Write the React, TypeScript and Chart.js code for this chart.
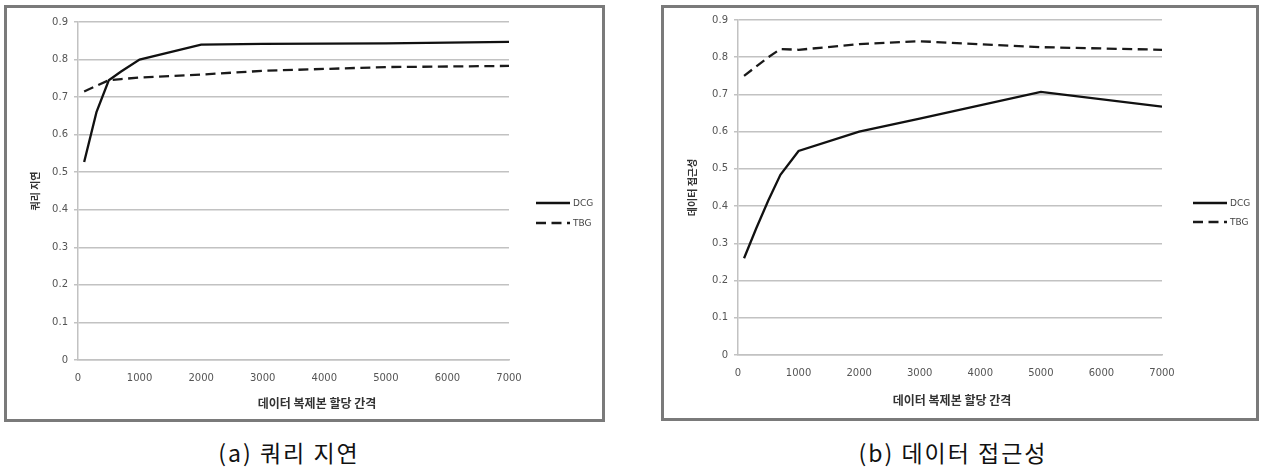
import React, { useEffect, useRef } from "react";
import { Chart, registerables } from "chart.js";

Chart.register(...registerables);

// ---- data ----
const intervals = [100, 300, 500, 700, 1000, 2000, 3000, 5000, 7000];
const latencyDCG = [0.527, 0.66, 0.745, 0.768, 0.8, 0.84, 0.842, 0.843, 0.847];
const latencyTBG = [0.715, 0.73, 0.745, 0.748, 0.752, 0.76, 0.77, 0.78, 0.783];
const accessDCG = [0.26, 0.34, 0.415, 0.484, 0.548, 0.6, 0.635, 0.707, 0.667];
const accessTBG = [0.75, 0.775, 0.8, 0.822, 0.82, 0.835, 0.843, 0.827, 0.82];
const seriesNames = ["DCG", "TBG"];
const xTickValues = [0, 1000, 2000, 3000, 4000, 5000, 6000, 7000];
const yTickValues = [0, 0.1, 0.2, 0.3, 0.4, 0.5, 0.6, 0.7, 0.8, 0.9];
const xAxisTitle = "데이터 복제본 할당 간격";
const yTitleA = "쿼리 지연";
const yTitleB = "데이터 접근성";
const captionA = "(a) 쿼리 지연";
const captionB = "(b) 데이터 접근성";

const GRID = "#c2c2c2";
const TICK_FONT = { family: "'DejaVu Sans', sans-serif", size: 10 };
const TICK_COLOR = "#555555";

const decorPlugin = {
  id: "decor",
  afterDraw(chart: any, _args: any, opts: any) {
    const ctx = chart.ctx;
    ctx.save();
    ctx.font = "bold 12px 'Noto Sans CJK KR'";
    ctx.fillStyle = "#333333";
    ctx.textAlign = "center";
    ctx.textBaseline = "middle";
    ctx.fillText(opts.xTitle, opts.xTitleX, opts.xTitleY);
    chart.data.datasets.forEach((ds: any, i: number) => {
      const y = opts.legendY + i * opts.legendGap;
      ctx.beginPath();
      ctx.setLineDash(ds.borderDash || []);
      ctx.lineWidth = ds.borderWidth;
      ctx.strokeStyle = ds.borderColor;
      ctx.moveTo(opts.legendX, y);
      ctx.lineTo(opts.legendX + opts.legendLen, y);
      ctx.stroke();
      ctx.setLineDash([]);
      ctx.font = "9px 'DejaVu Sans'";
      ctx.textAlign = "left";
      ctx.fillStyle = "#444444";
      ctx.fillText(ds.label, opts.legendX + opts.legendLen + 3, y + 0.5);
    });
    ctx.restore();
  },
};

type PanelProps = {
  frame: { left: number; top: number; width: number; height: number };
  dcg: number[];
  tbg: number[];
  yTitle: string;
  yWidth: number;
  xHeight: number;
  padTop: number;
  padRight: number;
  decor: any;
};

function Panel(props: PanelProps) {
  const ref = useRef<HTMLCanvasElement | null>(null);
  const cw = props.frame.width - 6;
  const ch = props.frame.height - 6;
  useEffect(() => {
    if (!ref.current) return;
    const mk = (vals: number[]) => intervals.map((x, i) => ({ x, y: vals[i] }));
    const chart = new Chart(ref.current, {
      type: "line",
      data: {
        datasets: [
          {
            label: seriesNames[0],
            data: mk(props.dcg),
            borderColor: "#111111",
            borderWidth: 2.3,
            pointRadius: 0,
            tension: 0,
            fill: false,
          },
          {
            label: seriesNames[1],
            data: mk(props.tbg),
            borderColor: "#1a1a1a",
            borderWidth: 2.3,
            borderDash: [10, 5.5],
            pointRadius: 0,
            tension: 0,
            fill: false,
          },
        ],
      },
      options: {
        animation: false,
        responsive: false,
        devicePixelRatio: 1,
        layout: { padding: { top: props.padTop, right: props.padRight, left: 0, bottom: 0 } },
        plugins: {
          legend: { display: false },
          tooltip: { enabled: false },
          decor: props.decor,
        } as any,
        scales: {
          x: {
            type: "linear",
            min: 0,
            max: 7000,
            afterBuildTicks: (s: any) => {
              s.ticks = xTickValues.map((v) => ({ value: v }));
            },
            afterFit: (s: any) => {
              s.height = props.xHeight;
            },
            grid: { display: false, drawTicks: false },
            border: { display: true, color: GRID, width: 1.5 },
            ticks: {
              font: TICK_FONT,
              color: TICK_COLOR,
              padding: 12,
              maxRotation: 0,
              autoSkip: false,
              callback: (v: any) => String(v),
            },
          },
          y: {
            type: "linear",
            min: 0,
            max: 0.9,
            afterBuildTicks: (s: any) => {
              s.ticks = yTickValues.map((v) => ({ value: v }));
            },
            afterFit: (s: any) => {
              s.width = props.yWidth;
            },
            grid: { color: GRID, lineWidth: 1.5, tickLength: 4, drawTicks: true, tickColor: GRID },
            border: { display: true, color: GRID, width: 1.5 },
            ticks: {
              font: TICK_FONT,
              color: TICK_COLOR,
              padding: 6,
              autoSkip: false,
              callback: (v: any) => String(Number(Number(v).toFixed(1))),
            },
            title: {
              display: true,
              text: props.yTitle,
              color: "#333333",
              font: { family: "'Noto Sans CJK KR'", size: 10, weight: "bold" },
              padding: { top: 22, bottom: 0 },
            },
          },
        },
      } as any,
      plugins: [decorPlugin],
    });
    return () => chart.destroy();
  }, []);
  return (
    <div
      style={{
        position: "absolute",
        left: props.frame.left,
        top: props.frame.top,
        width: props.frame.width,
        height: props.frame.height,
        border: "3px solid #7a7a7a",
        boxSizing: "border-box",
        background: "#ffffff",
      }}
    >
      <canvas
        ref={ref}
        width={cw}
        height={ch}
        style={{ position: "absolute", left: 0, top: 0, width: cw, height: ch }}
      />
    </div>
  );
}

const captionStyle: React.CSSProperties = {
  position: "absolute",
  top: 440,
  height: 24,
  lineHeight: "24px",
  fontFamily: "'Noto Sans CJK KR', sans-serif",
  fontSize: 23,
  letterSpacing: 2,
  color: "#111111",
  textAlign: "center",
  whiteSpace: "pre",
};

export default function App() {
  return (
    <div
      style={{
        position: "fixed",
        left: 0,
        top: 0,
        width: 1265,
        height: 471,
        background: "#ffffff",
        overflow: "hidden",
      }}
    >
      <Panel
        frame={{ left: 4, top: 5, width: 601, height: 417 }}
        dcg={latencyDCG}
        tbg={latencyTBG}
        yTitle={yTitleA}
        yWidth={71}
        xHeight={59}
        padTop={14}
        padRight={93}
        decor={{ xTitle: xAxisTitle, xTitleX: 310, xTitleY: 395, legendX: 529, legendLen: 34, legendY: 195, legendGap: 20 }}
      />
      <Panel
        frame={{ left: 661, top: 5, width: 598, height: 416 }}
        dcg={accessDCG}
        tbg={accessTBG}
        yTitle={yTitleB}
        yWidth={74}
        xHeight={63}
        padTop={9}
        padRight={94}
        decor={{ xTitle: xAxisTitle, xTitleX: 288, xTitleY: 392, legendX: 529, legendLen: 34, legendY: 195, legendGap: 19 }}
      />
      <div style={{ ...captionStyle, left: 189, width: 200 }}>{captionA}</div>
      <div style={{ ...captionStyle, left: 853, width: 200 }}>{captionB}</div>
    </div>
  );
}
